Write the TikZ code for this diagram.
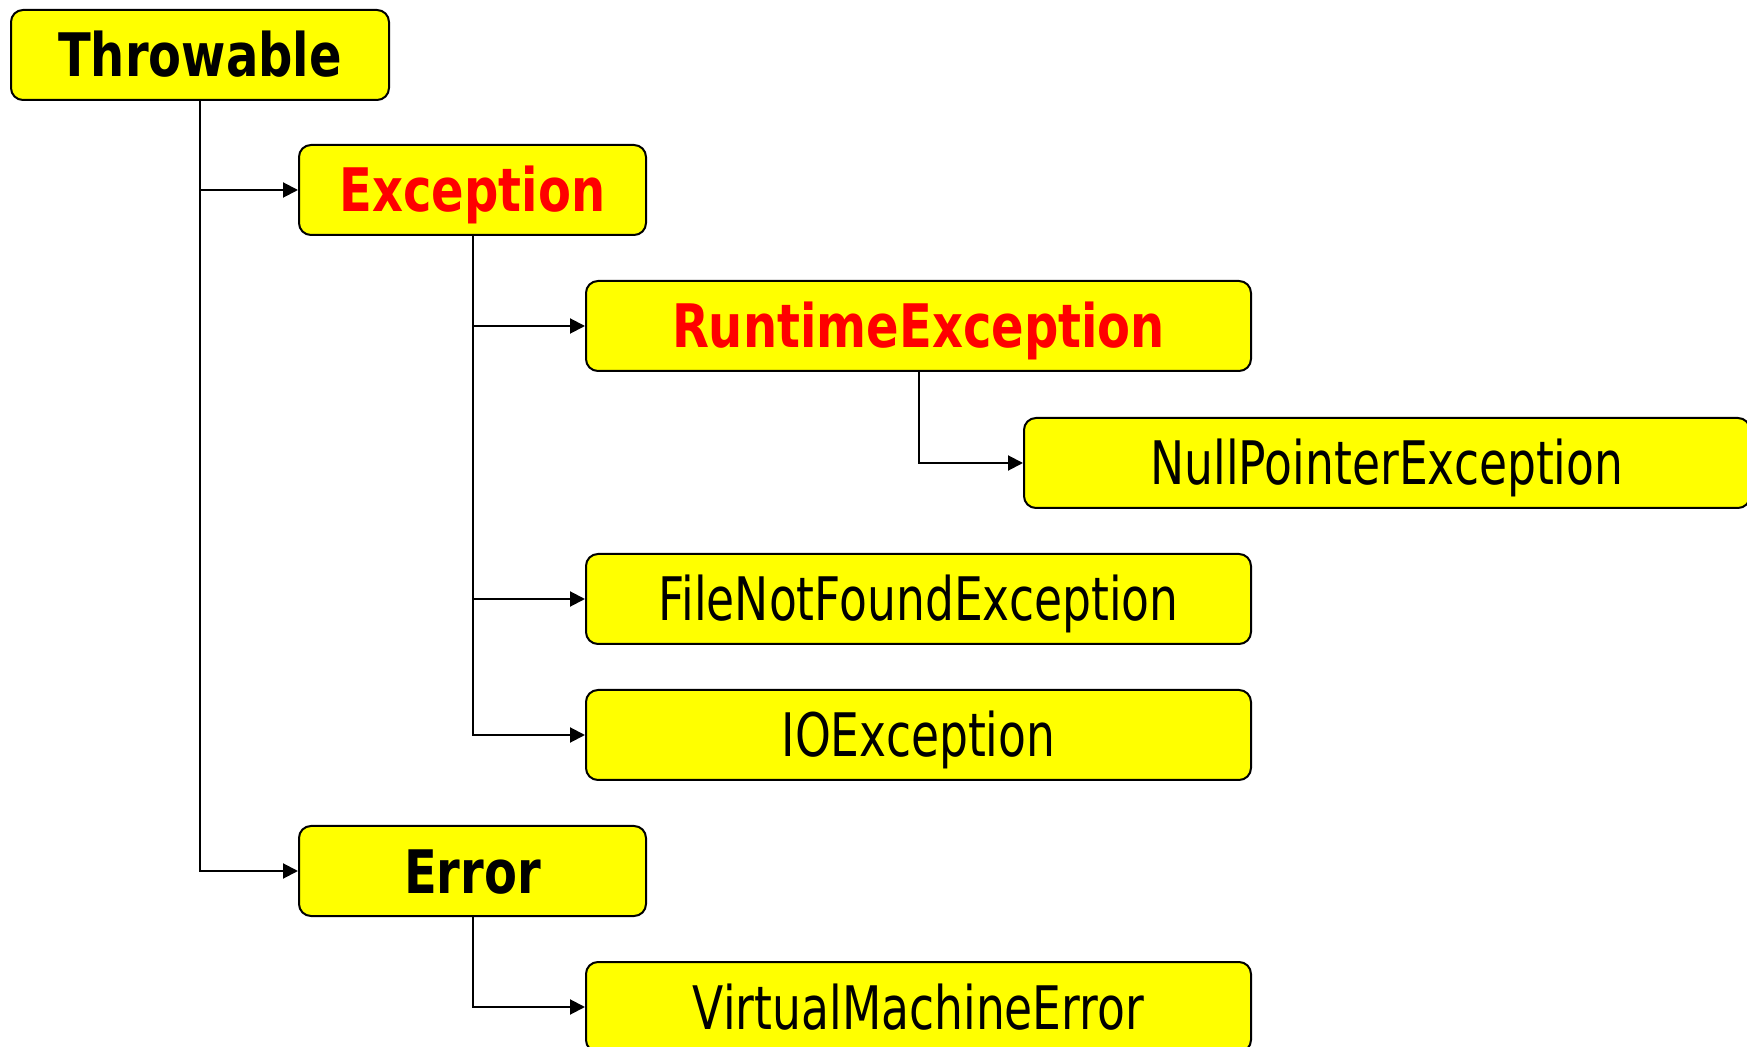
\documentclass[tikz,border=0pt]{standalone}
\usepackage{fontspec}
\setmainfont{DejaVu Sans}[FakeStretch=0.76,BoldFeatures={FakeStretch=0.80}]
\usetikzlibrary{arrows.meta}
\usetikzlibrary{positioning}
\definecolor{boxyellow}{RGB}{255,255,0}
\definecolor{keyred}{RGB}{255,0,0}

\begin{document}
\begin{tikzpicture}[x=0.5pt,y=-0.5pt,-{Triangle[length=7.5pt,width=7.5pt]},line width=1pt,
				box/.style={draw,line width=1pt,fill=boxyellow,rounded corners=6pt,
					minimum height=45pt,inner sep=0pt,text height=22pt,text depth=0pt,
					font=\fontsize{30}{34}\selectfont},
				short/.style={box,minimum width=173.5pt},
				long/.style={box,minimum width=332.5pt},
				key/.style={font=\fontsize{30}{34}\selectfont\bfseries}]
				\clip (0,0) rectangle (1747,1047);
				\node[box,key,minimum width=189pt] (thr) at (200,55) {Throwable};
				\node[short,key,text=keyred] (exc) at (472.5,190) {Exception};
				\node[long,key,text=keyred] (rte) at (918.5,326) {RuntimeException};
				\node[box,minimum width=363pt] (npe) at (1387,463) {NullPointerException};
				\node[long] (fnf) at (918.5,599) {FileNotFoundException};
				\node[long] (ioe) at (918.5,735) {IOException};
				\node[short,key] (err) at (472.5,871) {Error};
				\node[long] (vme) at (918.5,1007) {VirtualMachineError};

					\draw (thr.south) |- (exc.west);
					\draw (thr.south) |- (err.west);
					\draw (exc.south) |- (rte.west);
					\draw (exc.south) |- (fnf.west);
					\draw (exc.south) |- (ioe.west);
					\draw (rte.south) |- (npe.west);
					\draw (err.south) |- (vme.west);
			\end{tikzpicture}
\end{document}
